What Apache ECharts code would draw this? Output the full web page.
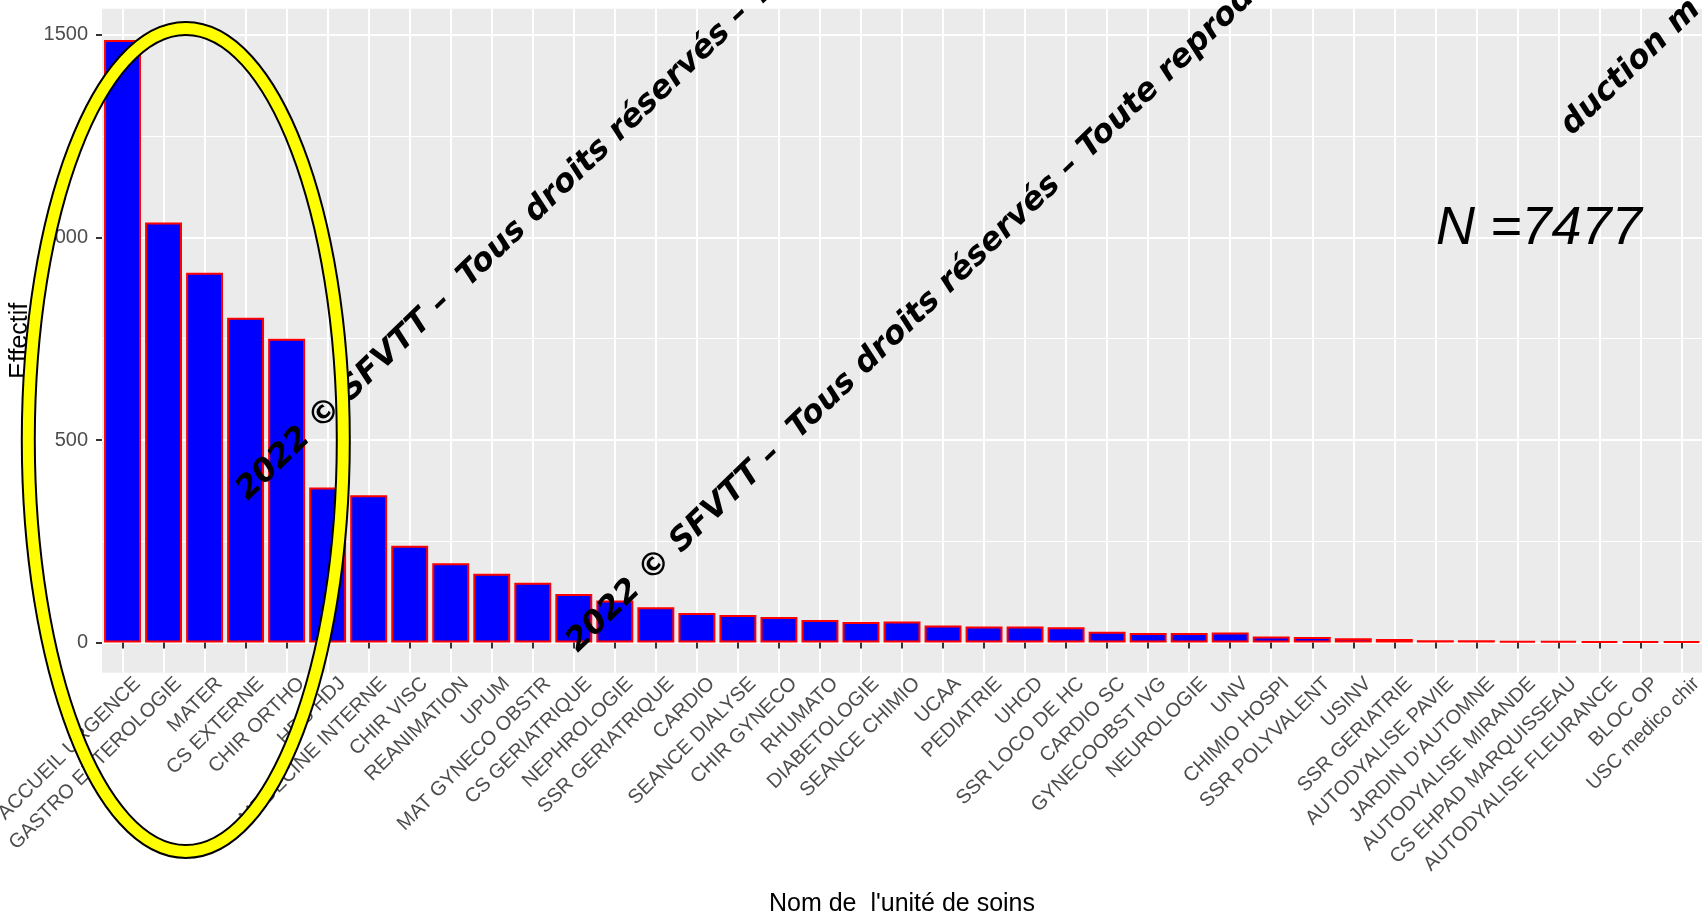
<!DOCTYPE html>
<html><head><meta charset="utf-8">
<script src="https://cdn.jsdelivr.net/npm/echarts@6/dist/echarts.min.js"></script>
<style>html,body{margin:0;padding:0;background:#fff}#c{width:1702px;height:917px}</style>
</head><body><div id="c"></div>
<script>
const categories = [
  'ACCUEIL URGENCE','GASTRO ENTEROLOGIE','MATER','CS EXTERNE','CHIR ORTHO','HDS HDJ',
  'MEDECINE INTERNE','CHIR VISC','REANIMATION','UPUM','MAT GYNECO OBSTR','CS GERIATRIQUE',
  'NEPHROLOGIE','SSR GERIATRIQUE','CARDIO','SEANCE DIALYSE','CHIR GYNECO','RHUMATO',
  'DIABETOLOGIE','SEANCE CHIMIO','UCAA','PEDIATRIE','UHCD','SSR LOCO DE HC','CARDIO SC',
  'GYNECOOBST IVG','NEUROLOGIE','UNV','CHIMIO HOSPI','SSR POLYVALENT','USINV',
  'SSR GERIATRIE','AUTODYALISE PAVIE',"JARDIN D'AUTOMNE",'AUTODYALISE MIRANDE',
  'CS EHPAD MARQUISSEAU','AUTODYALISE FLEURANCE','BLOC OP','USC medico chir'
];
const counts = [
  1487, 1037, 913, 802, 750, 383,
  364, 239, 196, 170, 148, 120,
  104, 87, 73, 68, 63, 56,
  51, 52, 42, 40, 40, 38, 27,
  24, 24, 25, 15, 14, 11,
  9, 6, 6, 4,
  4, 3, 3, 3
];
const yTicks = [0, 500, 1000, 1500];
const yMinor = [250, 750, 1250];
const yRange = [-74.5, 1564.5];
const xTitle = "Nom de  l'unité de soins";
const yTitle = 'Effectif';
const nLabel = 'N =7477';
const watermarks = [
  '2022 © SFVTT –  Tous droits réservés – Toute reproduction',
  '2022 © SFVTT –  Tous droits réservés – Toute reproduction',
  'duction m'
];

const chart = echarts.init(document.getElementById('c'), null, {renderer: 'canvas'});
const ang = 44 * Math.PI / 180;
const wmStyle = (t) => ({
  text: t, fill: '#000', fontSize: 32, fontWeight: 'bold', fontStyle: 'italic',
  fontFamily: 'DejaVu Sans', align: 'left', verticalAlign: 'middle',
  textAlign: 'left', textVerticalAlign: 'middle'
});
chart.setOption({
  animation: false,
  grid: {left: 102, right: 0, top: 8.7, bottom: 244.2, show: true,
         backgroundColor: '#EBEBEB', borderWidth: 0, outerBoundsMode: 'none'},
  xAxis: {
    type: 'category', data: categories, boundaryGap: true,
    axisLine: {show: false},
    axisTick: {show: true, alignWithLabel: true, length: 6, lineStyle: {color: '#333', width: 2}},
    axisLabel: {interval: 0, rotate: 45, fontSize: 20, color: '#4D4D4D',
                fontFamily: 'Liberation Sans', margin: -7, verticalAlign: 'top', lineHeight: 42},
    splitLine: {show: true, alignWithLabel: true, lineStyle: {color: '#FFFFFF', width: 2}},
    name: xTitle, nameLocation: 'middle', nameGap: 231, nameMoveOverlap: false,
    nameTextStyle: {fontSize: 25, color: '#000', fontFamily: 'Liberation Sans', verticalAlign: 'middle', lineHeight: 25}
  },
  yAxis: [{
    type: 'value', min: yRange[0], max: yRange[1],
    axisLine: {show: false},
    axisTick: {show: true, length: 6, customValues: yTicks, lineStyle: {color: '#333', width: 2}},
    axisLabel: {customValues: yTicks, fontSize: 20, color: '#4D4D4D', fontFamily: 'Liberation Sans',
                margin: 14, formatter: (v) => String(v)},
    splitLine: {show: true, lineStyle: {color: '#FFFFFF', width: 2}},
    name: yTitle, nameLocation: 'middle', nameGap: 82, nameRotate: 90, nameMoveOverlap: false,
    nameTextStyle: {fontSize: 25, color: '#000', fontFamily: 'Liberation Sans', verticalAlign: 'middle'}
  }, {
    type: 'value', min: yRange[0], max: yRange[1], position: 'left',
    axisLine: {show: false},
    axisTick: {show: false, customValues: yMinor},
    axisLabel: {show: false, customValues: yMinor},
    splitLine: {show: true, lineStyle: {color: '#FFFFFF', width: 1}}
  }],
  series: [{
    type: 'bar', data: counts, barWidth: '90%', yAxisIndex: 0,
    itemStyle: {color: '#0000FF', borderColor: '#FF0000', borderWidth: 2}
  }],
  graphic: [
    {type: 'text', x: 242, y: 495, rotation: ang, z: 100, style: wmStyle(watermarks[0])},
    {type: 'text', x: 572, y: 647, rotation: ang, z: 100, style: wmStyle(watermarks[1])},
    {type: 'text', x: 1566, y: 130, rotation: ang, z: 100, style: wmStyle(watermarks[2])},
    {type: 'text', x: 1436, y: 229, z: 100, style: {text: nLabel, fill: '#000', fontSize: 54,
      fontStyle: 'italic', fontFamily: 'Liberation Sans', align: 'left', verticalAlign: 'middle',
      textAlign: 'left', textVerticalAlign: 'middle'}},
    {type: 'ellipse', z: 101, shape: {cx: 185.8, cy: 440, rx: 157.5, ry: 411.5},
      style: {fill: null, stroke: '#000', lineWidth: 15}},
    {type: 'ellipse', z: 102, shape: {cx: 185.8, cy: 440, rx: 157.5, ry: 411.5},
      style: {fill: null, stroke: '#FFFF00', lineWidth: 11}}
  ]
});
</script></body></html>
